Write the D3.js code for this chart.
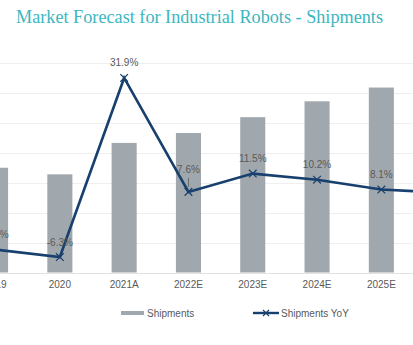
<!DOCTYPE html>
<html>
<head>
<meta charset="utf-8">
<script src="https://cdn.jsdelivr.net/npm/d3@7"></script>
<style>
  body { margin: 0; background: #fff; }
  svg { display: block; }
</style>
</head>
<body>
<script>
// chart data
var years = ["2019", "2020", "2021A", "2022E", "2023E", "2024E", "2025E", "2026E"];
var shipments = [350, 328, 433, 466, 519, 572, 618, 664];
var yoy = [-4.7, -6.3, 31.9, 7.6, 11.5, 10.2, 8.1, 7.4];
var yoyLabels = ["-4.7%", "-6.3%", "31.9%", "7.6%", "11.5%", "10.2%", "8.1%", "7.4%"];
var gridTicks = [0, 100, 200, 300, 400, 500, 600, 700];

function main() {
    var W = 413, H = 345;
    var svg = d3.select("body")
      .append("svg")
      .attr("width", W)
      .attr("height", H);

    // title
    svg.append("text")
      .attr("x", 16)
      .attr("y", 23)
      .attr("fill", "#3db6c0")
      .style("font-family", "'Liberation Serif', 'DejaVu Serif', serif")
      .style("font-size", "19px")
      .attr("textLength", 367)
      .attr("lengthAdjust", "spacingAndGlyphs")
      .text("Market Forecast for Industrial Robots - Shipments");

    var x = d3.scaleBand()
      .domain(years)
      .range([-36.6, 477.8])
      .paddingInner(0.61)
      .paddingOuter(0.305);

    var y = d3.scaleLinear().domain([0, 700]).range([272.5, 63]);
    var y2 = d3.scaleLinear().domain([-10, 35]).range([274.4, 63.4]);

    // gridlines
    svg.append("g")
      .selectAll("line")
      .data(gridTicks)
      .enter()
      .append("line")
      .attr("x1", 0)
      .attr("x2", W)
      .attr("y1", function (d) { return Math.round(y(d)) + 0.5; })
      .attr("y2", function (d) { return Math.round(y(d)) + 0.5; })
      .attr("stroke", function (d) { return d === 0 ? "#e2e2e2" : "#efefef"; })
      .attr("stroke-width", 1);

    // bars
    svg.append("g")
      .selectAll("rect")
      .data(shipments)
      .enter()
      .append("rect")
      .attr("x", function (d, i) { return x(years[i]); })
      .attr("width", x.bandwidth())
      .attr("y", function (d) { return y(d); })
      .attr("height", function (d) { return y(0) - y(d); })
      .attr("fill", "#a1a8ad");

    // x axis labels
    var xAxis = d3.axisBottom(x).tickSize(0).tickPadding(8);
    var ax = svg.append("g")
      .attr("transform", "translate(0," + y(0) + ")")
      .call(xAxis);
    ax.select(".domain").remove();
    ax.selectAll("text")
      .attr("fill", "#595959")
      .style("font-family", "'Liberation Sans', Arial, sans-serif")
      .style("font-size", "10px");

    // line
    var cx = function (i) { return x(years[i]) + x.bandwidth() / 2; };
    var line = d3.line()
      .x(function (d, i) { return cx(i); })
      .y(function (d) { return y2(d); });

    svg.append("path")
      .datum(yoy)
      .attr("d", line)
      .attr("fill", "none")
      .attr("stroke", "#17406e")
      .attr("stroke-width", 2.6)
      .attr("stroke-linejoin", "miter");

    // markers
    var cross = d3.symbol().type(d3.symbolX).size(40);
    svg.append("g")
      .selectAll("path")
      .data(yoy)
      .enter()
      .append("path")
      .attr("d", cross)
      .attr("transform", function (d, i) { return "translate(" + cx(i) + "," + y2(d) + ")"; })
      .attr("fill", "none")
      .attr("stroke", "#17406e")
      .attr("stroke-width", 1.2);

    // data labels (the 7.6% one sits higher with a short leader)
    var lift = function (i) { return years[i] === "2022E" ? 22 : 15; };
    svg.append("g")
      .selectAll("text")
      .data(yoy)
      .enter()
      .append("text")
      .attr("x", function (d, i) { return cx(i); })
      .attr("y", function (d, i) { return y2(d) - lift(i) + 3.5; })
      .attr("text-anchor", "middle")
      .attr("fill", "#595959")
      .style("font-family", "'Liberation Sans', Arial, sans-serif")
      .style("font-size", "10px")
      .text(function (d, i) { return yoyLabels[i]; });

    var i22 = years.indexOf("2022E");
    svg.append("line")
      .attr("x1", cx(i22)).attr("x2", cx(i22))
      .attr("y1", y2(yoy[i22]) - 14)
      .attr("y2", y2(yoy[i22]) - 5)
      .attr("stroke", "#595959")
      .attr("stroke-width", 0.8);

    // legend
    var lg = svg.append("g").attr("transform", "translate(0,313)");
    lg.append("rect")
      .attr("x", 121).attr("y", -2)
      .attr("width", 23).attr("height", 4)
      .attr("fill", "#a1a8ad");
    lg.append("text")
      .attr("x", 147).attr("y", 3.5)
      .attr("fill", "#595959")
      .style("font-family", "'Liberation Sans', Arial, sans-serif")
      .style("font-size", "10px")
      .text("Shipments");
    lg.append("line")
      .attr("x1", 253).attr("x2", 279)
      .attr("y1", 0).attr("y2", 0)
      .attr("stroke", "#17406e")
      .attr("stroke-width", 2.4);
    lg.append("path")
      .attr("d", d3.symbol().type(d3.symbolX).size(25))
      .attr("transform", "translate(266,0)")
      .attr("stroke", "#17406e")
      .attr("stroke-width", 1.2);
    lg.append("text")
      .attr("x", 281).attr("y", 3.5)
      .attr("fill", "#595959")
      .style("font-family", "'Liberation Sans', Arial, sans-serif")
      .style("font-size", "10px")
      .text("Shipments YoY");
}

main();
</script>
</body>
</html>
